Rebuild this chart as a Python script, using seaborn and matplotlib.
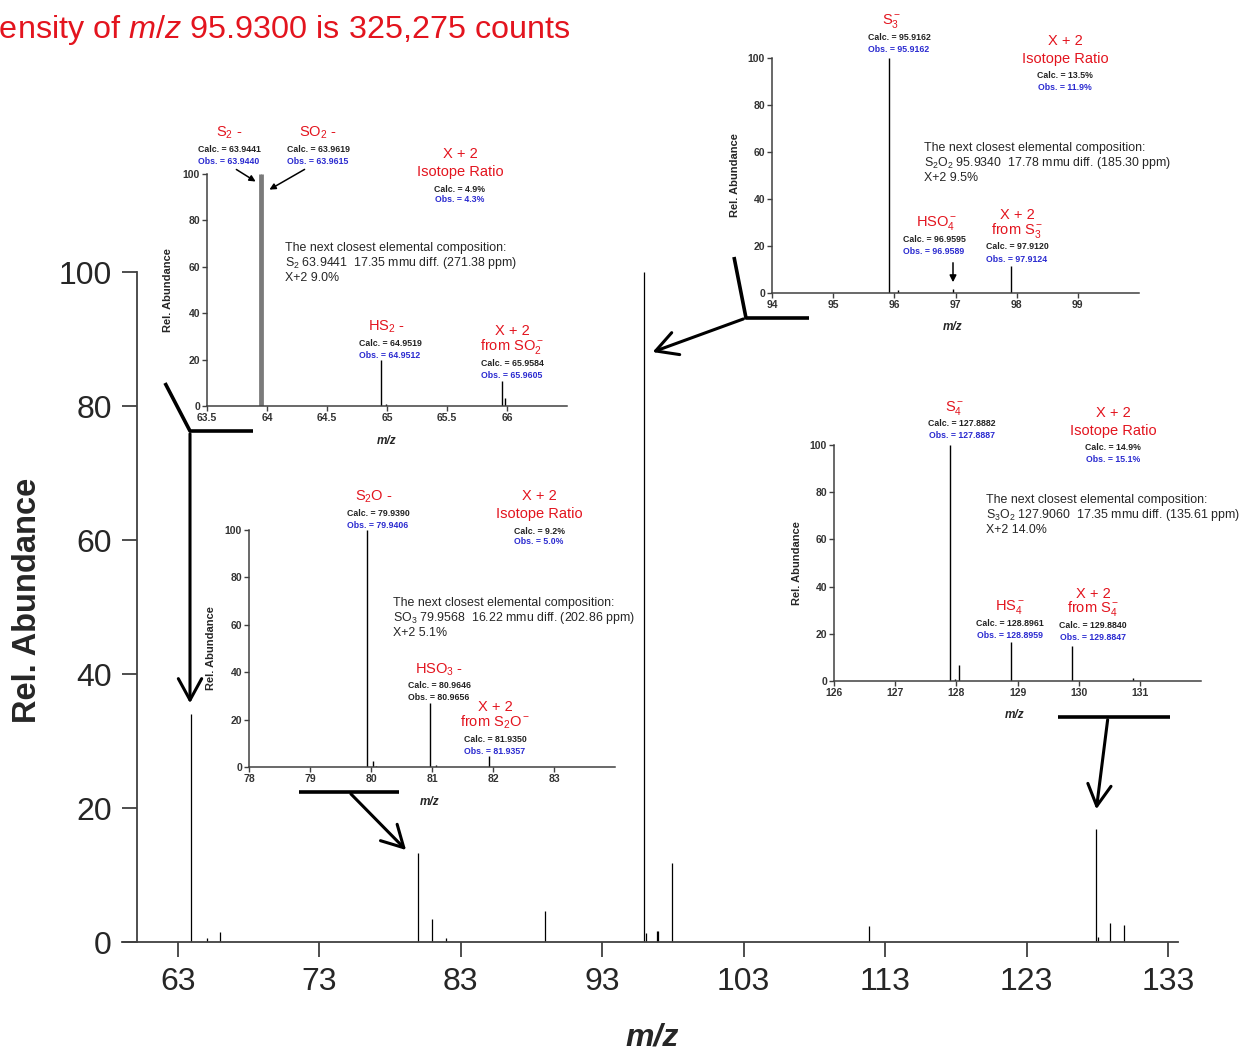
import matplotlib
matplotlib.use("Agg")
import matplotlib.pyplot as plt
import seaborn as sns

# ---- data ----
main_mz = [63.96, 65.03, 65.96, 79.94, 80.97, 81.94, 88.96, 95.93, 96.06, 96.88,
           96.96, 97.92, 111.87, 127.89, 128.04, 128.89, 129.88]
main_int = [34.0, 0.6, 1.5, 13.3, 3.5, 0.6, 4.6, 100.0, 1.4, 1.7,
            1.6, 11.8, 2.4, 16.8, 0.8, 2.8, 2.5]

# S2- / SO2- region
s2_mz_pair = [63.9440, 63.9615]
s2_int_pair = [100.0, 100.0]
s2_mz = [64.9512, 64.995, 65.9605, 65.982]
s2_int = [20.0, 0.8, 10.7, 3.5]

# S3- region
s3_mz = [95.9162, 96.06, 96.9589, 97.9124]
s3_int = [100.0, 1.4, 1.8, 11.6]

# S2O- region
s2o_mz = [79.9406, 80.04, 80.08, 80.9656, 81.06, 81.9357]
s2o_int = [100.0, 2.4, 0.6, 27.0, 0.7, 4.8]

# S4- region
s4_mz = [127.8887, 127.98, 128.04, 128.8959, 129.8847, 130.89]
s4_int = [100.0, 0.9, 6.6, 16.5, 14.9, 1.1]

main_xticks = [63, 73, 83, 93, 103, 113, 123, 133]
yticks = [0, 20, 40, 60, 80, 100]

W, H = 1242, 1053
RED = "#e3141e"
BLUE = "#2a2ad0"
DARK = "#222222"
SPINE = "#404040"

sns.set_style("ticks")
plt.rcParams["font.family"] = ["Liberation Sans", "DejaVu Sans"]
plt.rcParams["mathtext.fontset"] = "custom"
plt.rcParams["mathtext.rm"] = "Liberation Sans"
plt.rcParams["mathtext.it"] = "Liberation Sans:italic"
plt.rcParams["mathtext.bf"] = "Liberation Sans:bold"

fig = plt.figure(figsize=(W / 100, H / 100), dpi=100)


def fp(x, y):
    # pixel position (top-left origin) -> figure fraction
    return (x / W, 1 - y / H)


def box(x0, ytop, x1, ybot):
    return [x0 / W, 1 - ybot / H, (x1 - x0) / W, (ybot - ytop) / H]


def ftext(x, y, s, **kw):
    kw.setdefault("ha", "center")
    kw.setdefault("va", "center")
    fig.text(*fp(x, y), s, **kw)


def fline(xs, ys, lw=2.6):
    pts = [fp(x, y) for x, y in zip(xs, ys)]
    fig.add_artist(plt.Line2D([p[0] for p in pts], [p[1] for p in pts],
                              transform=fig.transFigure, color="black", lw=lw,
                              solid_capstyle="butt", zorder=5))


# ---- main spectrum ----
ax = fig.add_axes(box(122, 272, 1178, 942))
ax.vlines(main_mz, 0, main_int, color="black", lw=0.9)
ax.set_xlim(59.05, 133.7)
ax.set_ylim(0, 100)
ax.set_xticks(main_xticks)
ax.set_yticks(yticks)
sns.despine(ax=ax)
ax.spines["left"].set_position(("data", 60.1))
for s in ["left", "bottom"]:
    ax.spines[s].set_color(SPINE)
    ax.spines[s].set_linewidth(1.3)
ax.tick_params(axis="both", length=11, width=1.3, color=SPINE, labelsize=23, pad=7)
ax.set_facecolor("none")

ftext(28, 600, "Rel. Abundance", rotation=90, fontsize=23.5, fontweight="bold")
ftext(652, 1038, "m/z", fontsize=23, fontweight="bold", style="italic")
# the headline runs off the left edge in the original slide
ftext(570, 30, "Intensity of $m/z$ 95.9300 is 325,275 counts", ha="right",
      color=RED, fontsize=23.3)


# ---- insets ----
def inset(rect, xlim, xticks, mz, inten, ylab_x, xlab_xy, tick_fmt=None):
    a = fig.add_axes(rect)
    a.set_facecolor("none")
    a.vlines(mz, 0, inten, color="black", lw=1.0)
    a.set_xlim(*xlim)
    a.set_ylim(0, 100)
    a.set_xticks(xticks)
    if tick_fmt:
        a.set_xticklabels([tick_fmt(t) for t in xticks])
    a.set_yticks(yticks)
    sns.despine(ax=a)
    for s in ["left", "bottom"]:
        a.spines[s].set_color(SPINE)
        a.spines[s].set_linewidth(1.1)
    a.tick_params(axis="both", length=3.5, width=1, color=SPINE, labelsize=7.5,
                  pad=1.5, labelcolor="#333333")
    for lab in a.get_xticklabels() + a.get_yticklabels():
        lab.set_fontweight("bold")
    cy = (rect[1] + rect[3] / 2)
    fig.text(ylab_x / W, cy, "Rel. Abundance", rotation=90, ha="center",
             va="center", fontsize=8, fontweight="bold")
    ftext(*xlab_xy, "m/z", fontsize=8.5, fontweight="bold", style="italic")
    return a


def ion(x, y, label, calc, obs, obs_color=BLUE, dx=0):
    ftext(x, y, label, color=RED, fontsize=10.5)
    ftext(x + dx, y + 16, calc, fontsize=6.3, fontweight="bold", color=DARK)
    ftext(x + dx, y + 28, obs, fontsize=6.3, fontweight="bold", color=obs_color)


def ratio(x, y, calc, obs):
    ftext(x, y, "X + 2", color=RED, fontsize=10.5)
    ftext(x, y + 18, "Isotope Ratio", color=RED, fontsize=10.5)
    ftext(x, y + 35, calc, fontsize=6.3, fontweight="bold", color=DARK)
    ftext(x, y + 46, obs, fontsize=6.3, fontweight="bold", color=BLUE)


def xplus(x, y, ion_lab, calc, obs):
    ftext(x, y, "X + 2", color=RED, fontsize=10.5)
    ftext(x, y + 15, "from " + ion_lab, color=RED, fontsize=10.5)
    ftext(x, y + 32, calc, fontsize=6.3, fontweight="bold", color=DARK)
    ftext(x, y + 44, obs, fontsize=6.3, fontweight="bold", color=BLUE)


def closest(x, y, formula_line, x2_line):
    ftext(x, y, "The next closest elemental composition:", ha="left", fontsize=8.9)
    ftext(x, y + 15, formula_line, ha="left", fontsize=8.9)
    ftext(x, y + 30, x2_line, ha="left", fontsize=8.9)


def arrow_px(tail, tip, lw=1.1, style="-|>", scale=9):
    fig.add_artist(matplotlib.patches.FancyArrowPatch(
        fp(*tail), fp(*tip), transform=fig.transFigure, arrowstyle=style,
        mutation_scale=scale, color="black", lw=lw, zorder=6))


# S2- / SO2- inset
a1 = inset(box(207, 174, 567, 406), (63.5, 66.5), [63.5, 64, 64.5, 65, 65.5, 66],
           s2_mz, s2_int, 168, (387, 441), tick_fmt=lambda t: f"{t:g}")
a1.vlines(s2_mz_pair, 0, s2_int_pair, color="#7a7a7a", lw=2.0)
ion(229, 133, "S$_2$ -", "Calc. = 63.9441", "Obs. = 63.9440")
ion(318, 133, "SO$_2$ -", "Calc. = 63.9619", "Obs. = 63.9615")
arrow_px((234, 168), (258, 183))
arrow_px((307, 168), (267, 191))
ratio(460, 154, "Calc. = 4.9%", "Obs. = 4.3%")
closest(285, 248, "S$_2$ 63.9441  17.35 mmu diff. (271.38 ppm)", "X+2 9.0%")
ion(386, 327, "HS$_2$ -", "Calc. = 64.9519", "Obs. = 64.9512", dx=4)
xplus(512, 331, "SO$_2^-$", "Calc. = 65.9584", "Obs. = 65.9605")

# S3- inset
a2 = inset(box(772, 58, 1139, 293), (94, 100), [94, 95, 96, 97, 98, 99],
           s3_mz, s3_int, 735, (953, 327))
ion(892, 21, "S$_3^-$", "Calc. = 95.9162", "Obs. = 95.9162", dx=7)
ratio(1065, 41, "Calc. = 13.5%", "Obs. = 11.9%")
closest(924, 148, "S$_2$O$_2$ 95.9340  17.78 mmu diff. (185.30 ppm)", "X+2 9.5%")
ion(937, 223, "HSO$_4^-$", "Calc. = 96.9595", "Obs. = 96.9589", dx=-3)
arrow_px((953, 260), (953, 285), scale=10)
xplus(1017, 215, "S$_3^-$", "Calc. = 97.9120", "Obs. = 97.9124")

# S2O- inset
a3 = inset(box(249, 530, 615, 767), (78, 84), [78, 79, 80, 81, 82, 83],
           s2o_mz, s2o_int, 211, (430, 802))
ion(374, 497, "S$_2$O -", "Calc. = 79.9390", "Obs. = 79.9406", dx=4)
ratio(539, 496, "Calc. = 9.2%", "Obs. = 5.0%")
closest(393, 603, "SO$_3$ 79.9568  16.22 mmu diff. (202.86 ppm)", "X+2 5.1%")
ion(439, 670, "HSO$_3$ -", "Calc. = 80.9646", "Obs. = 80.9656", obs_color=DARK)
xplus(495, 707, "S$_2$O$^-$", "Calc. = 81.9350", "Obs. = 81.9357")

# S4- inset
a4 = inset(box(834, 445, 1201, 681), (126, 132), [126, 127, 128, 129, 130, 131],
           s4_mz, s4_int, 797, (1015, 715))
ion(955, 408, "S$_4^-$", "Calc. = 127.8882", "Obs. = 127.8887", dx=7)
ratio(1113, 413, "Calc. = 14.9%", "Obs. = 15.1%")
closest(986, 500, "S$_3$O$_2$ 127.9060  17.35 mmu diff. (135.61 ppm)", "X+2 14.0%")
ion(1010, 607, "HS$_4^-$", "Calc. = 128.8961", "Obs. = 128.8959")
xplus(1093, 594, "S$_4^-$", "Calc. = 129.8840", "Obs. = 129.8847")

# ---- connectors from insets to the main spectrum ----
big = "->,head_length=0.55,head_width=0.3"
fline([165, 190, 253], [383, 431, 431])
arrow_px((190, 431), (190, 706), lw=2.2, style=big, scale=28)

fline([734, 746, 809], [257, 318, 318])
arrow_px((746, 318), (650, 353), lw=2.2, style=big, scale=28)

fline([299, 399], [792, 792])
arrow_px((349, 792), (408, 852), lw=2.2, style=big, scale=28)

fline([1058, 1170], [717, 717])
arrow_px((1108, 717), (1096, 812), lw=2.2, style=big, scale=28)

fig.savefig("out.png", dpi=100)
